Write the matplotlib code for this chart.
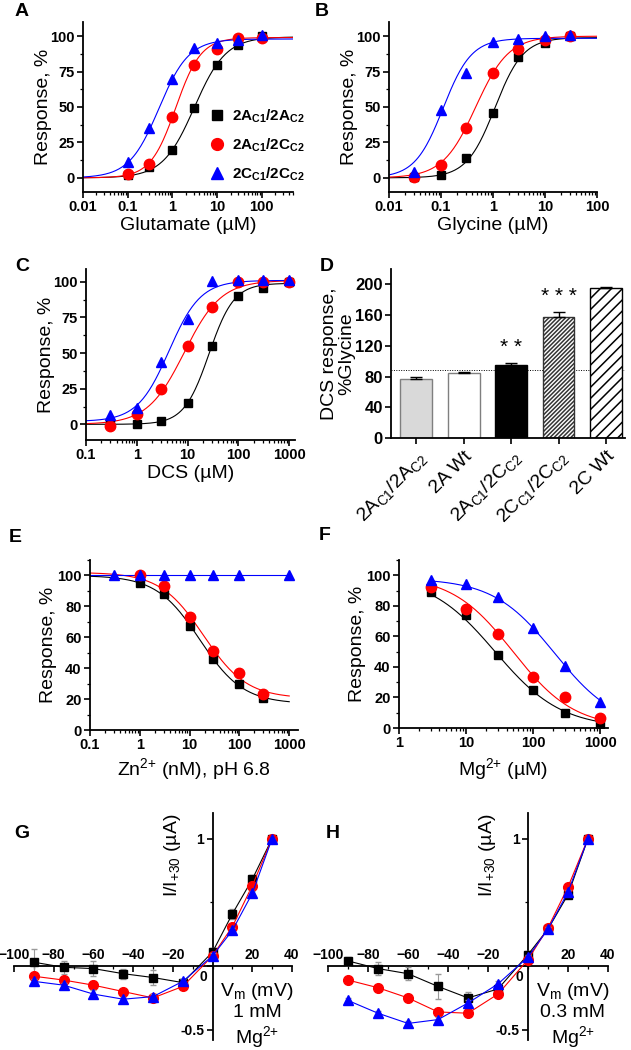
import numpy as np
import matplotlib
matplotlib.use('Agg')
import matplotlib.pyplot as plt
from matplotlib.ticker import LogLocator, NullFormatter, MultipleLocator, FixedLocator
from matplotlib.lines import Line2D

plt.rcParams['font.family'] = ['Liberation Sans', 'DejaVu Sans']
plt.rcParams['mathtext.default'] = 'regular'
plt.rcParams['hatch.linewidth'] = 1.1

W, H = 631, 1050

# --- series styling data
series = ['2A$_{C1}$/2A$_{C2}$', '2A$_{C1}$/2C$_{C2}$', '2C$_{C1}$/2C$_{C2}$']
colors = ['black', 'red', 'blue']
markers = ['s', 'o', '^']
msizes = [6.0, 7.5, 7.5]

# --- A: glutamate
glu_x = [0.1, 0.3, 1, 3, 10, 30, 100]
glu_y = [[2, 7.5, 20, 49, 80, 94, 100],
         [2.6, 10, 43, 80, 91, 99, 99],
         [11, 35, 70, 92, 95, 97, 101]]
glu_fit = [(0, 99.5, 3.1, 1.23), (0, 99, 1.19, 1.54), (0, 98, 0.5, 1.3)]  # bottom, top, EC50, nH

# --- B: glycine
gly_x = [0.03, 0.1, 0.3, 1, 3, 10, 30]
gly_y = [[0.7, 1.9, 14, 46, 85, 95, 100],
         [0.5, 9.4, 35, 74, 91, 97, 100],
         [4, 48, 74, 96, 98, 100, 101]]
gly_fit = [(0, 99, 1.09, 1.6), (0, 100, 0.465, 1.37), (0, 98.5, 0.11, 1.6)]

# --- C: DCS
dcs_x = [0.3, 1, 3, 10, 30, 100, 300, 1000]
dcs_y = [[0, 0, 2.4, 15, 55, 90, 96, 100],
         [-1, 7, 24.5, 55, 82, 100, 100, 100],
         [6.4, 11.5, 44, 74, 100.5, 101, 101, 101]]
dcs_fit = [(0, 99, 26.4, 1.77), (0, 101, 8.6, 1.2), (2, 101, 4.3, 1.4)]

# --- D: DCS efficacy bars
bar_labels = ['2A$_{C1}$/2A$_{C2}$', '2A Wt', '2A$_{C1}$/2C$_{C2}$', '2C$_{C1}$/2C$_{C2}$', '2C Wt']
bar_vals = [77, 85, 95, 158, 195]
bar_err = [3, 1, 3, 6, 2]
bar_stars = ['', '', '**', '***', '']
ref_line = 88

# --- E: zinc
zn_x = [[1, 3, 10, 30, 100, 300],
        [1, 3, 10, 30, 100, 300],
        [0.3, 1, 3, 10, 30, 100, 1000]]
zn_y = [[95, 88, 67.6, 46, 30, 20.4],
        [100, 93.3, 73.4, 51, 36.9, 23.2],
        [100, 100, 100, 100, 100, 100, 100]]
zn_fit = [(17, 100, 16, 1.0), (20.5, 102, 19, 1.0), (100, 100, 1, 1.0)]  # bottom, top, IC50, nH

# --- F: magnesium
mg_x = [3, 10, 30, 100, 300, 1000]
mg_y = [[88.8, 73.7, 47.7, 25, 9.5, 2.4],
        [92, 78, 61.8, 33.7, 20.3, 6.7],
        [97, 94, 86, 65.4, 40.6, 17]]
mg_fit = [(0, 100, 27, 0.88), (0, 100, 50, 0.95), (0, 98, 208, 0.95)]

# --- G/H: I-V curves
vm = [-90, -75, -60, -45, -30, -15, 0, 10, 20, 30]
iv_1mM = [[0.03, -0.01, -0.02, -0.06, -0.09, -0.13, 0.11, 0.41, 0.68, 1.0],
          [-0.08, -0.11, -0.15, -0.20, -0.25, -0.16, 0.08, 0.31, 0.63, 1.0],
          [-0.12, -0.15, -0.22, -0.26, -0.24, -0.12, 0.08, 0.28, 0.57, 1.0]]
iv_1mM_err = [[0.1, 0.05, 0.06, 0.04, 0.06, 0.03, 0.03, 0.04, 0.03, 0],
              [0.02, 0.02, 0.03, 0.02, 0.02, 0.02, 0.02, 0.02, 0.02, 0],
              [0.02, 0.02, 0.03, 0.02, 0.02, 0.02, 0.02, 0.02, 0.02, 0]]
iv_03mM = [[0.04, -0.02, -0.06, -0.16, -0.25, -0.18, 0.09, 0.29, 0.56, 1.0],
           [-0.11, -0.17, -0.25, -0.36, -0.37, -0.22, 0.05, 0.30, 0.62, 1.0],
           [-0.27, -0.37, -0.45, -0.42, -0.29, -0.14, 0.07, 0.29, 0.58, 1.0]]
iv_03mM_err = [[0.03, 0.05, 0.05, 0.1, 0.05, 0.04, 0.03, 0.02, 0.02, 0],
               [0.01, 0.01, 0.02, 0.02, 0.02, 0.02, 0.02, 0.02, 0.02, 0],
               [0.02, 0.02, 0.02, 0.02, 0.02, 0.02, 0.02, 0.02, 0.02, 0]]


def box(l, t, r, b):
    return [l / W, 1 - b / H, (r - l) / W, (b - t) / H]


def hill_up(x, p):
    b, t, ec, n = p
    return b + (t - b) / (1 + (ec / x) ** n)


def hill_down(x, p):
    b, t, ic, n = p
    return b + (t - b) / (1 + (x / ic) ** n)


def style_log(ax, xlim, ylim, yticks, yminor):
    ax.set_xscale('log')
    ax.set_xlim(*xlim)
    ax.set_ylim(*ylim)
    ax.set_yticks(yticks)
    ax.yaxis.set_minor_locator(MultipleLocator(yminor))
    ax.xaxis.set_major_locator(LogLocator(base=10, numticks=10))
    ax.xaxis.set_minor_locator(LogLocator(base=10, subs=np.arange(2, 10), numticks=10))
    ax.xaxis.set_minor_formatter(NullFormatter())
    ax.xaxis.set_major_formatter(plt.FuncFormatter(lambda v, _: f'{v:g}'))
    for s in ['top', 'right']:
        ax.spines[s].set_visible(False)
    for s in ['left', 'bottom']:
        ax.spines[s].set_linewidth(1.3)
    ax.tick_params(which='major', length=4, width=1.2, labelsize=10.5, pad=2)
    ax.tick_params(which='minor', length=2.2, width=0.9)
    for lab in ax.get_xticklabels() + ax.get_yticklabels():
        lab.set_fontweight('bold')


def dose_panel(ax, xs, ys, fits, fn, xline):
    for i in range(3):
        xv = xs[i] if isinstance(xs[0], list) else xs
        xx = np.logspace(np.log10(xline[0]), np.log10(xline[1]), 200)
        ax.plot(xx, fn(xx, fits[i]), color=colors[i], lw=0.8, zorder=2)
        ax.plot(xv, ys[i], linestyle='none', marker=markers[i], ms=msizes[i],
                color=colors[i], zorder=3 + i)


fig = plt.figure(figsize=(W / 100, H / 100), dpi=100)

# ---- A
axA = fig.add_axes(box(83, 22, 293, 192))
dose_panel(axA, glu_x, glu_y, glu_fit, hill_up, (0.01, 500))
style_log(axA, (0.01, 500), (-10, 110), [0, 25, 50, 75, 100], 12.5)
axA.set_ylabel('Response, %', fontsize=14, labelpad=-1)
axA.set_xlabel('Glutamate (µM)', fontsize=14, labelpad=2)
handles = [Line2D([], [], linestyle='none', marker=markers[i], ms=msizes[i] + 1,
                  color=colors[i]) for i in range(3)]
axA.legend(handles, series, loc='lower right', bbox_to_anchor=(1.1, 0.0),
           frameon=False, handletextpad=0.2, labelspacing=0.75, borderpad=0.1,
           handlelength=1.6, prop={'weight': 'bold', 'size': 11})

# ---- B
axB = fig.add_axes(box(389, 22, 597, 192))
dose_panel(axB, gly_x, gly_y, gly_fit, hill_up, (0.01, 100))
style_log(axB, (0.01, 100), (-10, 110), [0, 25, 50, 75, 100], 12.5)
axB.set_ylabel('Response, %', fontsize=14, labelpad=-1)
axB.set_xlabel('Glycine (µM)', fontsize=14, labelpad=2)

# ---- C
axC = fig.add_axes(box(86, 269, 295, 440))
dose_panel(axC, dcs_x, dcs_y, dcs_fit, hill_up, (0.1, 1000))
style_log(axC, (0.1, 1300), (-11, 109), [0, 25, 50, 75, 100], 12.5)
axC.set_ylabel('Response, %', fontsize=14, labelpad=-1)
axC.set_xlabel('DCS (µM)', fontsize=14, labelpad=2)

# ---- D
axD = fig.add_axes(box(391, 269, 625, 438))
xpos = np.arange(len(bar_vals))
fills = ['#d9d9d9', 'white', 'black', 'white', 'white']
edges = ['#7f7f7f', '#7f7f7f', 'black', '#333333', 'black']
hatches = [None, None, None, '////////', '///']
for i in range(len(bar_vals)):
    axD.bar(xpos[i], bar_vals[i], width=0.67, color=fills[i], edgecolor=edges[i],
            hatch=hatches[i], linewidth=1.0, zorder=2)
    axD.errorbar(xpos[i], bar_vals[i], yerr=[[0], [bar_err[i]]], color='black',
                 capsize=4, elinewidth=1, capthick=1, zorder=3)
    if bar_stars[i]:
        axD.text(xpos[i], bar_vals[i] + bar_err[i] + 8, ' '.join(bar_stars[i]), ha='center',
                 va='bottom', fontsize=15)
axD.axhline(ref_line, color='black', lw=0.7, ls=(0, (1, 1.5)), zorder=1)
axD.set_xlim(-0.53, 4.4)
axD.set_ylim(0, 220)
axD.set_yticks([0, 40, 80, 120, 160, 200])
axD.set_xticks(xpos)
axD.set_xticklabels(bar_labels, rotation=45, ha='right', rotation_mode='anchor', fontsize=14)
for s in ['top', 'right']:
    axD.spines[s].set_visible(False)
for s in ['left', 'bottom']:
    axD.spines[s].set_linewidth(1.3)
axD.tick_params(which='major', length=4, width=1.2, labelsize=12, pad=2)
axD.tick_params(axis='x', labelsize=14, pad=3)
for lab in axD.get_yticklabels():
    lab.set_fontweight('bold')
axD.set_ylabel('DCS response,\n%Glycine', fontsize=14, labelpad=0, linespacing=1.0)

# ---- E
axE = fig.add_axes(box(90, 560, 298, 730))
dose_panel(axE, zn_x, zn_y, zn_fit, hill_down, (0.1, 1000))
style_log(axE, (0.1, 1500), (0, 110), [0, 20, 40, 60, 80, 100], 10)
axE.set_ylabel('Response, %', fontsize=14, labelpad=0)
axE.set_xlabel('Zn$^{2{+}}$ (nM), pH 6.8', fontsize=14, labelpad=3)

# ---- F
axF = fig.add_axes(box(399, 560, 608, 728))
dose_panel(axF, mg_x, mg_y, mg_fit, hill_down, (3, 1000))
style_log(axF, (1, 1300), (0, 110), [0, 20, 40, 60, 80, 100], 10)
axF.set_ylabel('Response, %', fontsize=14, labelpad=0)
axF.set_xlabel('Mg$^{2{+}}$ (µM)', fontsize=14, labelpad=4)


# ---- G / H
def iv_panel(ax, ys, errs, conc):
    for i in range(3):
        ax.errorbar(vm, ys[i], yerr=errs[i], color=colors[i], ecolor='#9a9a9a',
                    elinewidth=0.8, capsize=2, lw=0.8, marker=markers[i], ms=msizes[i] - 0.5,
                    zorder=3 + i)
    ax.set_xlim(-100, 40)
    ax.set_ylim(-0.58, 1.2)
    ax.spines['left'].set_position(('data', 0))
    ax.spines['bottom'].set_position(('data', 0))
    for s in ['top', 'right']:
        ax.spines[s].set_visible(False)
    for s in ['left', 'bottom']:
        ax.spines[s].set_linewidth(1.3)
    ax.xaxis.set_major_locator(FixedLocator([-100, -80, -60, -40, -20, 20, 40]))
    ax.xaxis.set_minor_locator(MultipleLocator(10))
    ax.yaxis.set_major_locator(FixedLocator([1, 0, -0.5]))
    ax.yaxis.set_minor_locator(FixedLocator([0.5]))
    ax.set_yticklabels(['1', '', '-0.5'])
    ax.tick_params(axis='x', which='major', length=4, width=1.2, labelsize=10, pad=-17)
    ax.tick_params(axis='x', which='minor', length=2.5, width=0.9)
    ax.tick_params(axis='y', which='major', length=4, width=1.2, labelsize=10, pad=2)
    ax.tick_params(axis='y', which='minor', length=2.5, width=0.9)
    for lab in ax.get_xticklabels() + ax.get_yticklabels():
        lab.set_fontweight('bold')
    ax.text(-2.5, -0.03, '0', ha='right', va='top', fontsize=10, fontweight='bold')
    ax.text(-20, 0.87, 'I/I$_{+30}$ (µA)', rotation=90, ha='center', va='center', fontsize=14)
    ax.text(22.5, -0.39, 'V$_m$ (mV)\n' + conc + '\nMg$^{2{+}}$', ha='center', va='center',
            fontsize=14, linespacing=1.15)


axG = fig.add_axes(box(14, 813, 292, 1040))
iv_panel(axG, iv_1mM, iv_1mM_err, '1 mM')
axH = fig.add_axes(box(328, 813, 608, 1040))
iv_panel(axH, iv_03mM, iv_03mM_err, '0.3 mM')

# panel letters
for lab, x, y in [('A', 22, 12), ('B', 322, 12), ('C', 22, 267), ('D', 327, 267),
                  ('E', 15, 538), ('F', 325, 536), ('G', 22, 833), ('H', 333, 833)]:
    fig.text(x / W, 1 - y / H, lab, fontsize=14, fontweight='bold', ha='center', va='center')

fig.savefig('out.png', dpi=100)
